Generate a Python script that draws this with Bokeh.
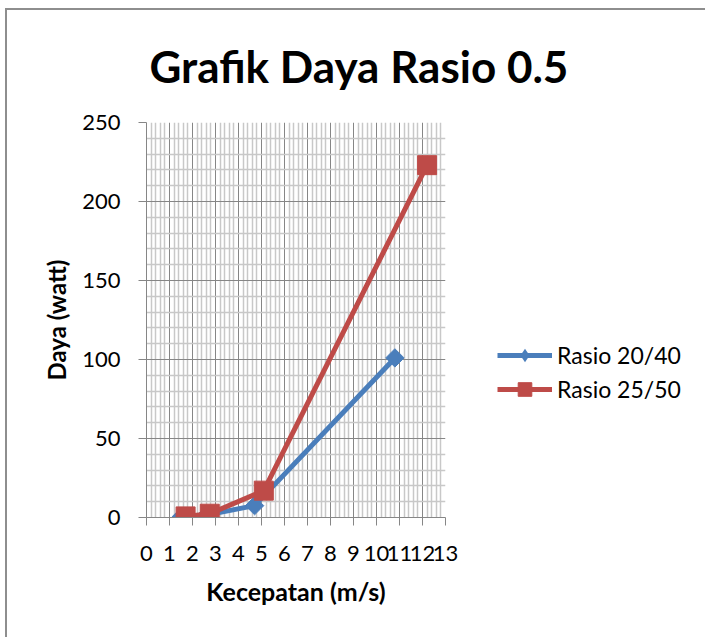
import numpy as np
from bokeh.plotting import figure
from bokeh.models import Range1d, FixedTicker, Legend, LegendItem
from bokeh.embed import file_html
from bokeh.resources import INLINE

# ---- data ----
speed_20_40 = [1.5, 2.6, 4.7, 10.8]
power_20_40 = [0.3, 1.5, 7.5, 101]
speed_25_50 = [1.7, 2.75, 5.1, 12.2]
power_25_50 = [0.7, 2.4, 17, 223]
x_ticks = list(range(0, 14))
y_ticks = [0, 50, 100, 150, 200, 250]
series_names = ["Rasio 20/40", "Rasio 25/50"]
title_text = "Grafik Daya Rasio 0.5"
x_title = "Kecepatan (m/s)"
y_title = "Daya (watt)"

FONT = "Lato"
BLUE = "#4A7EBB"
RED = "#BE4B48"
MAJOR = "#868686"
MINOR = "#C8C8C8"

bg = ("linear-gradient(#8e8e8e,#8e8e8e) 5px 8px / 2px 640px no-repeat, "
      "linear-gradient(#8e8e8e,#8e8e8e) 5px 8px / 720px 2px no-repeat, white")

p = figure(frame_width=299, frame_height=395, output_backend="svg", toolbar_location=None,
           x_range=Range1d(0, 13), y_range=Range1d(0, 250),
           min_border_left=146, min_border_top=122, min_border_right=260,
           min_border_bottom=120,
           border_fill_color=None,
           styles={"background": bg})

p.title.text = title_text
p.title.text_font = FONT
p.title.text_font_size = "44px"
p.title.text_font_style = "bold"
p.title.align = "left"
p.title.vertical_align = "top"
p.title.offset = 3
p.title.standoff = 58
p.title.text_color = "black"

p.outline_line_color = None

x_minor = [round(i * 0.2, 2) for i in range(0, 66) if i % 5 != 0]
y_minor = [v for v in range(0, 251, 10) if v % 50 != 0]
p.xaxis.ticker = FixedTicker(ticks=x_ticks, minor_ticks=x_minor)
p.yaxis.ticker = FixedTicker(ticks=y_ticks, minor_ticks=y_minor)

for g in (p.xgrid, p.ygrid):
    g.grid_line_color = MAJOR
    g.grid_line_width = 1
    g.minor_grid_line_color = MINOR
    g.minor_grid_line_width = 1.5

for ax in (p.xaxis, p.yaxis):
    ax.axis_line_color = MAJOR
    ax.axis_line_width = 1
    ax.major_tick_line_color = MAJOR
    ax.major_tick_in = 0
    ax.major_tick_out = 8
    ax.minor_tick_line_color = None
    ax.major_label_text_font = FONT
    ax.major_label_text_font_size = "22px"
    ax.major_label_text_color = "black"
    ax.axis_label_text_font = FONT
    ax.axis_label_text_font_style = "bold"
    ax.axis_label_text_color = "black"

p.xaxis.axis_label = x_title
p.yaxis.axis_label = y_title
p.xaxis.axis_label_text_font_size = "25px"
p.yaxis.axis_label_text_font_size = "24px"
p.xaxis.major_label_standoff = 20
p.yaxis.major_label_standoff = 18
p.xaxis.axis_label_standoff = 12
p.yaxis.axis_label_standoff = 8

l1 = p.line(speed_20_40, power_20_40, line_color=BLUE, line_width=5)
m1 = p.scatter(speed_20_40, power_20_40, marker="square", angle=np.pi / 4,
               size=13, fill_color=BLUE, line_color=BLUE)
l2 = p.line(speed_25_50, power_25_50, line_color=RED, line_width=5)
m2 = p.scatter(speed_25_50, power_25_50, marker="square", size=19,
               fill_color=RED, line_color=RED)
# diamond symbol used for the legend key (zero size on the plot itself)
key1 = p.scatter(speed_20_40, power_20_40, marker="diamond", size=0,
                 fill_color=BLUE, line_color=None)

legend = Legend(items=[LegendItem(label=series_names[0], renderers=[l1, key1]),
                       LegendItem(label=series_names[1], renderers=[l2, m2])],
                location=(52, 111), orientation="vertical",
                glyph_width=55, glyph_height=34, spacing=0, padding=0, margin=0,
                label_standoff=5, label_text_font=FONT, label_text_font_size="23px",
                label_text_color="black", border_line_color=None,
                background_fill_alpha=0)
p.add_layout(legend, "right")

open("out.html", "w").write(file_html(p, INLINE))
